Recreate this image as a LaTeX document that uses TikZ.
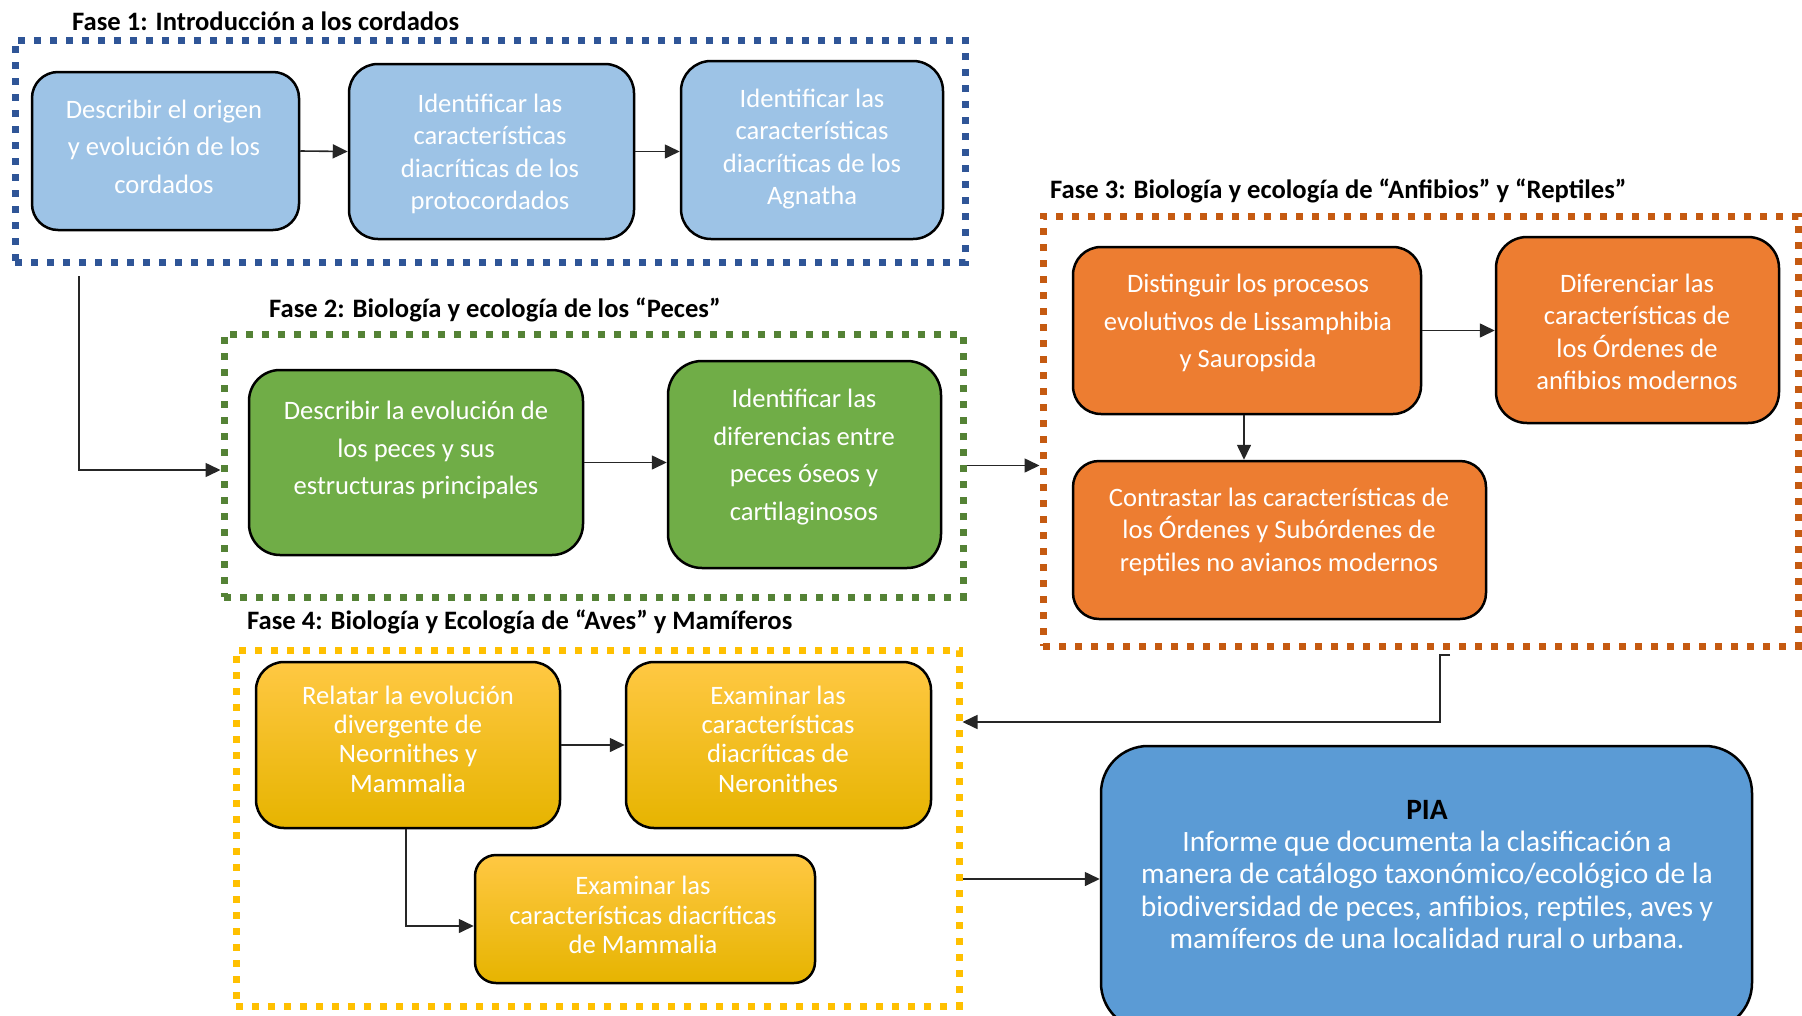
\documentclass[tikz,border=0pt]{standalone}
\usepackage{fontspec}
\setmainfont{Carlito}
\usetikzlibrary{arrows.meta}

\definecolor{frameblue}{HTML}{2F5597}
\definecolor{framegreen}{HTML}{548235}
\definecolor{frameorange}{HTML}{C55A11}
\definecolor{frameyellow}{HTML}{FFC000}
\definecolor{boxblue}{HTML}{9DC3E6}
\definecolor{boxgreen}{HTML}{70AD47}
\definecolor{boxorange}{HTML}{ED7D31}
\definecolor{yeltop}{HTML}{FFC843}
\definecolor{yelmid}{HTML}{FFC000}
\definecolor{yelbot}{HTML}{E6B400}
\definecolor{boxpia}{HTML}{5B9BD5}

\tikzset{
  box/.style={draw=black, line width=2.5pt, inner sep=0pt},
  yellowbox/.style={box, top color=yeltop, middle color=yelmid, bottom color=yelbot},
  boxtext/.style={text=white, align=center, inner sep=0pt},
  spacingwide/.style={font=\fontsize{26.6}{37.4}\selectfont},
  spacingmid/.style={font=\fontsize{26.6}{32.4}\selectfont},
  spacingtight/.style={font=\fontsize{26.6}{29.4}\selectfont},
  phaseframe/.style={line width=7pt, dash pattern=on 7pt off 9pt, inner sep=0pt},
  phasetitle/.style={anchor=west, font=\fontsize{26.6}{30}\selectfont\bfseries, inner sep=0pt},
  conn/.style={line width=1.6pt, draw=black!85, -{Triangle[length=15pt,width=14pt]}},
}

\begin{document}
\begin{tikzpicture}[x=1pt, y=-1pt]
\useasboundingbox (0,0) rectangle (1802,1015);

% ---------- Fase 1 ----------
\node[phasetitle] (t1) at (72,21) {Fase 1: Introducción a los cordados};
\node[phaseframe, draw=frameblue, minimum width=950, minimum height=222] (f1) at (490,151) {};

\node[box, fill=boxblue, minimum width=267, minimum height=158, rounded corners=26] (b1) at (165.5,151) {};
\node[boxtext, spacingwide] (b1t) at (164,146.5) {Describir el origen\\y evolución de los\\cordados};

\node[box, fill=boxblue, minimum width=285, minimum height=175, rounded corners=29] (b2) at (491.5,151.5) {};
\node[boxtext, spacingmid] (b2t) at (490,154) {Identificar las\\características\\diacríticas de los\\protocordados};

\node[box, fill=boxblue, minimum width=262, minimum height=178, rounded corners=30] (b3) at (812,150) {};
\node[boxtext, spacingmid] (b3t) at (812,149) {Identificar las\\características\\diacríticas de los\\Agnatha};

\draw[conn] (b1.east) -- (b2.west);
\draw[conn] (b2.east) -- (b2.east -| b3.west);

% ---------- Fase 2 ----------
\node[phasetitle] (t2) at (269,310) {Fase 2: Biología y ecología de los “Peces”};
\node[phaseframe, draw=framegreen, minimum width=739, minimum height=263] (f2) at (593.5,465.5) {};

\node[box, fill=boxgreen, minimum width=334, minimum height=185, rounded corners=31] (g1) at (416,462.5) {};
\node[boxtext, spacingwide] (g1t) at (416,450) {Describir la evolución de\\los peces y sus\\estructuras principales};

\node[box, fill=boxgreen, minimum width=273, minimum height=207, rounded corners=34] (g2) at (804.5,464.5) {};
\node[boxtext, spacingwide] (g2t) at (804,457) {Identificar las\\diferencias entre\\peces óseos y\\cartilaginosos};

\draw[conn] (g1.east) -- (g1.east -| g2.west);

\coordinate (f1out) at (79,276);
\draw[conn] (f1out) |- ([yshift=-4.5pt]f2.west);

% ---------- Fase 3 ----------
\node[phasetitle] (t3) at (1050,191) {Fase 3: Biología y ecología de “Anfibios” y “Reptiles”};
\node[phaseframe, draw=frameorange, minimum width=755, minimum height=430] (f3) at (1420.5,431) {};

\node[box, fill=boxorange, minimum width=348, minimum height=167, rounded corners=28] (o1) at (1247,330.5) {};
\node[boxtext, spacingwide] (o1t) at (1248,323) {Distinguir los procesos\\evolutivos de Lissamphibia\\y Sauropsida};

\node[box, fill=boxorange, minimum width=283, minimum height=186, rounded corners=31] (o2) at (1637.5,330) {};
\node[boxtext, spacingmid] (o2t) at (1637,332) {Diferenciar las\\características de\\los Órdenes de\\anfibios modernos};

\node[box, fill=boxorange, minimum width=413, minimum height=158, rounded corners=26] (o3) at (1279.5,540) {};
\node[boxtext, spacingmid] (o3t) at (1279,531.5) {Contrastar las características de\\los Órdenes y Subórdenes de\\reptiles no avianos modernos};

\draw[conn] (o1.east) -- (o1.east -| o2.west);
\draw[conn] ([xshift=-3pt]o1.south) -- ([xshift=-3pt]o1.south |- o3.north);

\draw[conn] (f2.east) -- (f2.east -| f3.west);

% ---------- Fase 4 ----------
\node[phasetitle] (t4) at (247,622) {Fase 4: Biología y Ecología de “Aves” y Mamíferos};
\node[phaseframe, draw=frameyellow, minimum width=723, minimum height=356] (f4) at (597.5,828) {};

\node[yellowbox, minimum width=304, minimum height=166, rounded corners=28] (y1) at (408,745) {};
\node[boxtext, spacingtight] (y1t) at (408,739) {Relatar la evolución\\divergente de\\Neornithes y\\Mammalia};

\node[yellowbox, minimum width=305, minimum height=166, rounded corners=28] (y2) at (778.5,745) {};
\node[boxtext, spacingtight] (y2t) at (778,739) {Examinar las\\características\\diacríticas de\\Neronithes};

\node[yellowbox, minimum width=340, minimum height=128, rounded corners=21] (y3) at (645,919) {};
\node[boxtext, spacingtight] (y3t) at (643,915) {Examinar las\\características diacríticas\\de Mammalia};

\draw[conn] (y1.east) -- (y1.east -| y2.west);
\draw[conn] ([xshift=-2pt]y1.south) |- ([yshift=-7pt]y3.west);

\coordinate (f3out) at (1450,655);
\draw[conn] (f3out) -- ++(-10,0) |- ([yshift=106pt]f4.east);

% ---------- PIA ----------
\node[box, fill=boxpia, minimum width=651, minimum height=284, rounded corners=47] (pia) at (1426.5,888) {};
\node[boxtext, font=\fontsize{29.5}{32.4}\selectfont] (piat) at (1427,874.5)
  {\textcolor{black}{\bfseries PIA}\\Informe que documenta la clasificación a\\manera de catálogo taxonómico/ecológico de la\\biodiversidad de peces, anfibios, reptiles, aves y\\mamíferos de una localidad rural o urbana.};

\draw[conn] ([yshift=-51pt]f4.east) -- ([yshift=-51pt]f4.east -| pia.west);

\end{tikzpicture}
\end{document}
